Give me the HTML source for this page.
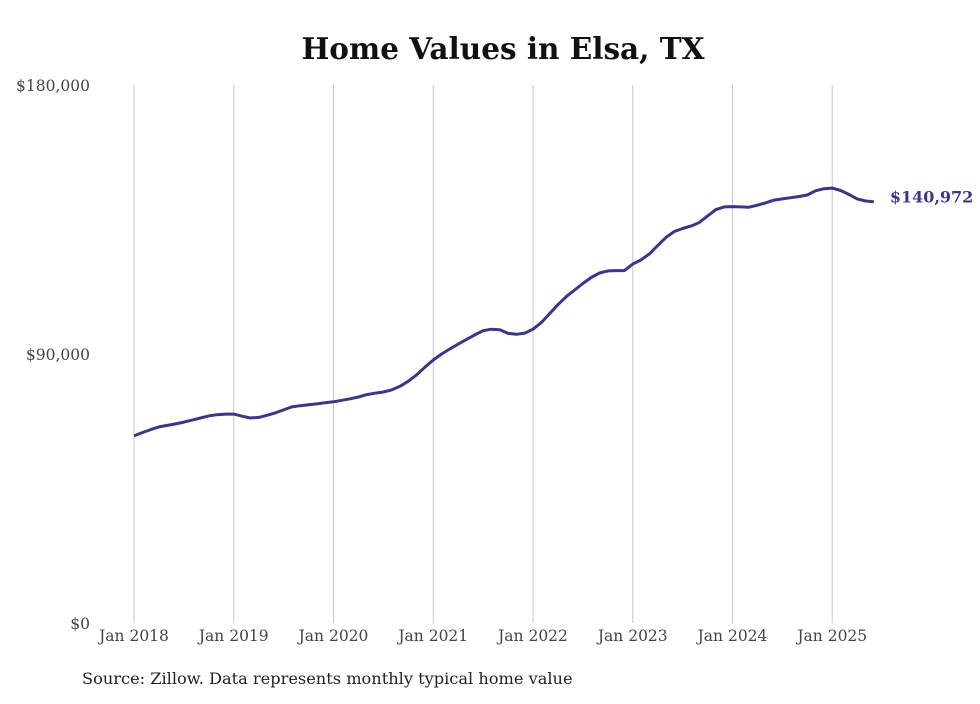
<!DOCTYPE html>
<html><head><meta charset="utf-8"><style>
body{margin:0;background:#fff;width:980px;height:699px;overflow:hidden}
svg text{font-family:"DejaVu Serif","Liberation Serif",serif}
</style></head><body>
<svg id="chart" width="980" height="699" xmlns="http://www.w3.org/2000/svg">
<text x="503" y="59" text-anchor="middle" font-size="29.5" font-weight="bold" fill="#111">Home Values in Elsa, TX</text>
<g id="grid"></g>
<g id="yaxis"></g>
<g id="xaxis"></g>
<path id="line" fill="none" stroke="#3b3494" stroke-width="3" stroke-linejoin="round"/>
<text id="endlabel" font-size="16" font-weight="bold" fill="#3b3494"></text>
<text x="82" y="684" font-size="16.2" fill="#222">Source: Zillow. Data represents monthly typical home value</text>
</svg>
<script>
const yTicks=[0,90000,180000];
const yTickLabels=["$0","$90,000","$180,000"];
const xTickLabels=["Jan 2018","Jan 2019","Jan 2020","Jan 2021","Jan 2022","Jan 2023","Jan 2024","Jan 2025"];
const startYear=2018;
const values=[62.6,63.7,64.7,65.6,66.1,66.6,67.2,67.9,68.6,69.3,69.7,69.9,
69.9,69.2,68.6,68.8,69.5,70.3,71.3,72.3,72.7,73.0,73.3,73.7,
74.0,74.5,75.0,75.6,76.4,76.9,77.3,78.0,79.2,80.9,83.0,85.6,
88.0,90.0,91.7,93.3,94.9,96.4,97.8,98.3,98.1,96.9,96.6,97.0,
98.3,100.5,103.5,106.5,109.2,111.4,113.6,115.6,117.1,117.8,117.9,117.9,
120.1,121.5,123.5,126.3,129.0,131.0,132.0,132.8,134.0,136.2,138.3,139.2,
139.3,139.2,139.1,139.8,140.6,141.5,141.9,142.3,142.7,143.2,144.6,145.3,
145.5,144.7,143.4,141.9,141.2,140.972];
const ns="http://www.w3.org/2000/svg";
const y=v=>623-v/180000*538;
const x=i=>134+i*(99.75/12);
function mk(tag,attrs,parent,txt){const e=document.createElementNS(ns,tag);for(const k in attrs)e.setAttribute(k,attrs[k]);if(txt!==undefined)e.textContent=txt;parent.appendChild(e);return e;}
const grid=document.getElementById('grid'),xa=document.getElementById('xaxis'),ya=document.getElementById('yaxis');
xTickLabels.forEach((l,k)=>{
  const gx=x(k*12);
  const g=mk('line',{x1:gx,x2:gx,y1:85,y2:623,stroke:'#c8c8c8','stroke-width':1},grid);
  
  
  const t=mk('text',{x:gx,y:641,'text-anchor':'middle','font-size':15.5,fill:'#444'},xa,l);
  
  
});
yTicks.forEach((v,k)=>{
  const t=mk('text',{x:90,y:y(v)+6,'text-anchor':'end','font-size':15.5,fill:'#444'},ya,yTickLabels[k]);
  
  
});
let d='';values.forEach((v,i)=>{d+=(i?'L':'M')+x(i).toFixed(1)+','+y(v*1000).toFixed(1);});
document.getElementById('line').setAttribute('d',d);
const last=values.length-1,lab=document.getElementById('endlabel');
lab.setAttribute('x',x(last)+16);lab.setAttribute('y',y(values[last]*1000)+1);
lab.textContent='$'+Math.round(values[last]*1000).toLocaleString('en-US');
</script>
</body></html>
